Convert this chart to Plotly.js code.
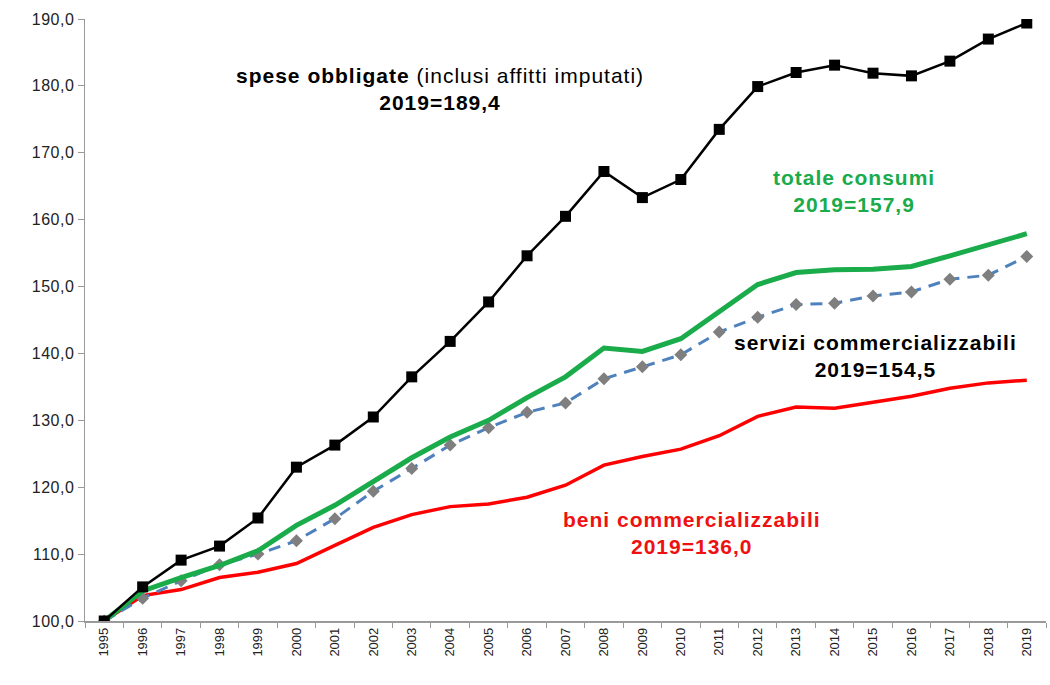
<!DOCTYPE html>
<html>
<head>
<meta charset="utf-8">
<script src="https://cdn.plot.ly/plotly-3.0.1.min.js"></script>
<style>
html,body{margin:0;padding:0;background:#fff;}
#chart{width:1050px;height:685px;}
.annotation-text{letter-spacing:1px;}
.ytick text{letter-spacing:0.5px;}
</style>
</head>
<body>
<div id="chart"></div>
<script>
const years = ["1995","1996","1997","1998","1999","2000","2001","2002","2003","2004","2005","2006","2007","2008","2009","2010","2011","2012","2013","2014","2015","2016","2017","2018","2019"];
const speseObbligate = [100.0,105.1,109.1,111.2,115.4,123.0,126.3,130.5,136.5,141.8,147.7,154.6,160.5,167.2,163.3,166.0,173.5,179.9,182.0,183.1,181.9,181.5,183.7,187.0,189.4];
const totaleConsumi = [100.0,104.5,106.5,108.3,110.5,114.3,117.3,120.8,124.4,127.5,130.0,133.4,136.5,140.8,140.3,142.2,146.3,150.3,152.1,152.5,152.6,153.0,154.6,156.2,157.9];
const serviziComm = [100.0,103.4,106.0,108.4,110.0,112.0,115.3,119.4,122.8,126.3,128.9,131.2,132.6,136.2,138.0,139.8,143.2,145.4,147.3,147.5,148.6,149.2,151.1,151.7,154.5];
const beniComm = [100.0,103.8,104.7,106.5,107.3,108.6,111.3,114.0,115.9,117.1,117.5,118.5,120.3,123.3,124.6,125.7,127.7,130.6,132.0,131.8,132.7,133.6,134.8,135.6,136.0];

const traces = [
  {x: years, y: beniComm, type: 'scatter', mode: 'lines', name: 'beni commercializzabili',
   line: {color: '#ff0000', width: 3.5}},
  {x: years, y: serviziComm, type: 'scatter', mode: 'lines+markers', name: 'servizi commercializzabili',
   line: {color: '#4f81bd', width: 3, dash: '12px,8px'},
   marker: {symbol: 'diamond', size: 10, color: '#7f7f7f'}},
  {x: years, y: totaleConsumi, type: 'scatter', mode: 'lines', name: 'totale consumi',
   line: {color: '#1aab4b', width: 5}},
  {x: years, y: speseObbligate, type: 'scatter', mode: 'lines+markers', name: 'spese obbligate',
   line: {color: '#000000', width: 2.5},
   marker: {symbol: 'square', size: 11, color: '#000000'}}
];

const fontFam = 'Arial, "Liberation Sans", sans-serif';
const layout = {
  width: 1050, height: 685,
  margin: {l: 85, r: 4, t: 19, b: 64},
  paper_bgcolor: '#ffffff', plot_bgcolor: '#ffffff',
  showlegend: false,
  separators: ',.',
  xaxis: {
    type: 'category', range: [-0.5, 24.5], tickson: 'boundaries',
    showgrid: false, zeroline: false,
    showline: true, linecolor: '#9a9a9a', linewidth: 1.5,
    ticks: 'outside', ticklen: 5, tickcolor: '#9a9a9a',
    tickangle: -90,
    tickfont: {family: fontFam, size: 13, color: '#222'}
  },
  yaxis: {
    range: [100, 190], dtick: 10, tick0: 100, tickformat: '.1f',
    showgrid: false, zeroline: false,
    showline: true, linecolor: '#9a9a9a', linewidth: 1.5,
    ticks: 'outside', ticklen: 6, tickcolor: '#9a9a9a',
    tickfont: {family: fontFam, size: 16, color: '#222'}
  },
  annotations: [
    {x: 8.73, y: 179.5, xref: 'x', yref: 'y', showarrow: false,
     text: '<b>spese obbligate</b> (inclusi affitti imputati)<br><b>2019=189,4</b>',
     font: {family: fontFam, size: 21, color: '#000'}, align: 'center'},
    {x: 19.5, y: 164.3, xref: 'x', yref: 'y', showarrow: false,
     text: '<b>totale consumi</b><br><b>2019=157,9</b>',
     font: {family: fontFam, size: 21, color: '#1aab4b'}, align: 'center'},
    {x: 20.06, y: 139.6, xref: 'x', yref: 'y', showarrow: false,
     text: '<b>servizi commercializzabili</b><br><b>2019=154,5</b>',
     font: {family: fontFam, size: 21, color: '#000'}, align: 'center'},
    {x: 15.3, y: 113.2, xref: 'x', yref: 'y', showarrow: false,
     text: '<b>beni commercializzabili</b><br><b>2019=136,0</b>',
     font: {family: fontFam, size: 21, color: '#ee1111'}, align: 'center'}
  ]
};
Plotly.newPlot('chart', traces, layout, {displayModeBar: false, staticPlot: true});
</script>
</body>
</html>
